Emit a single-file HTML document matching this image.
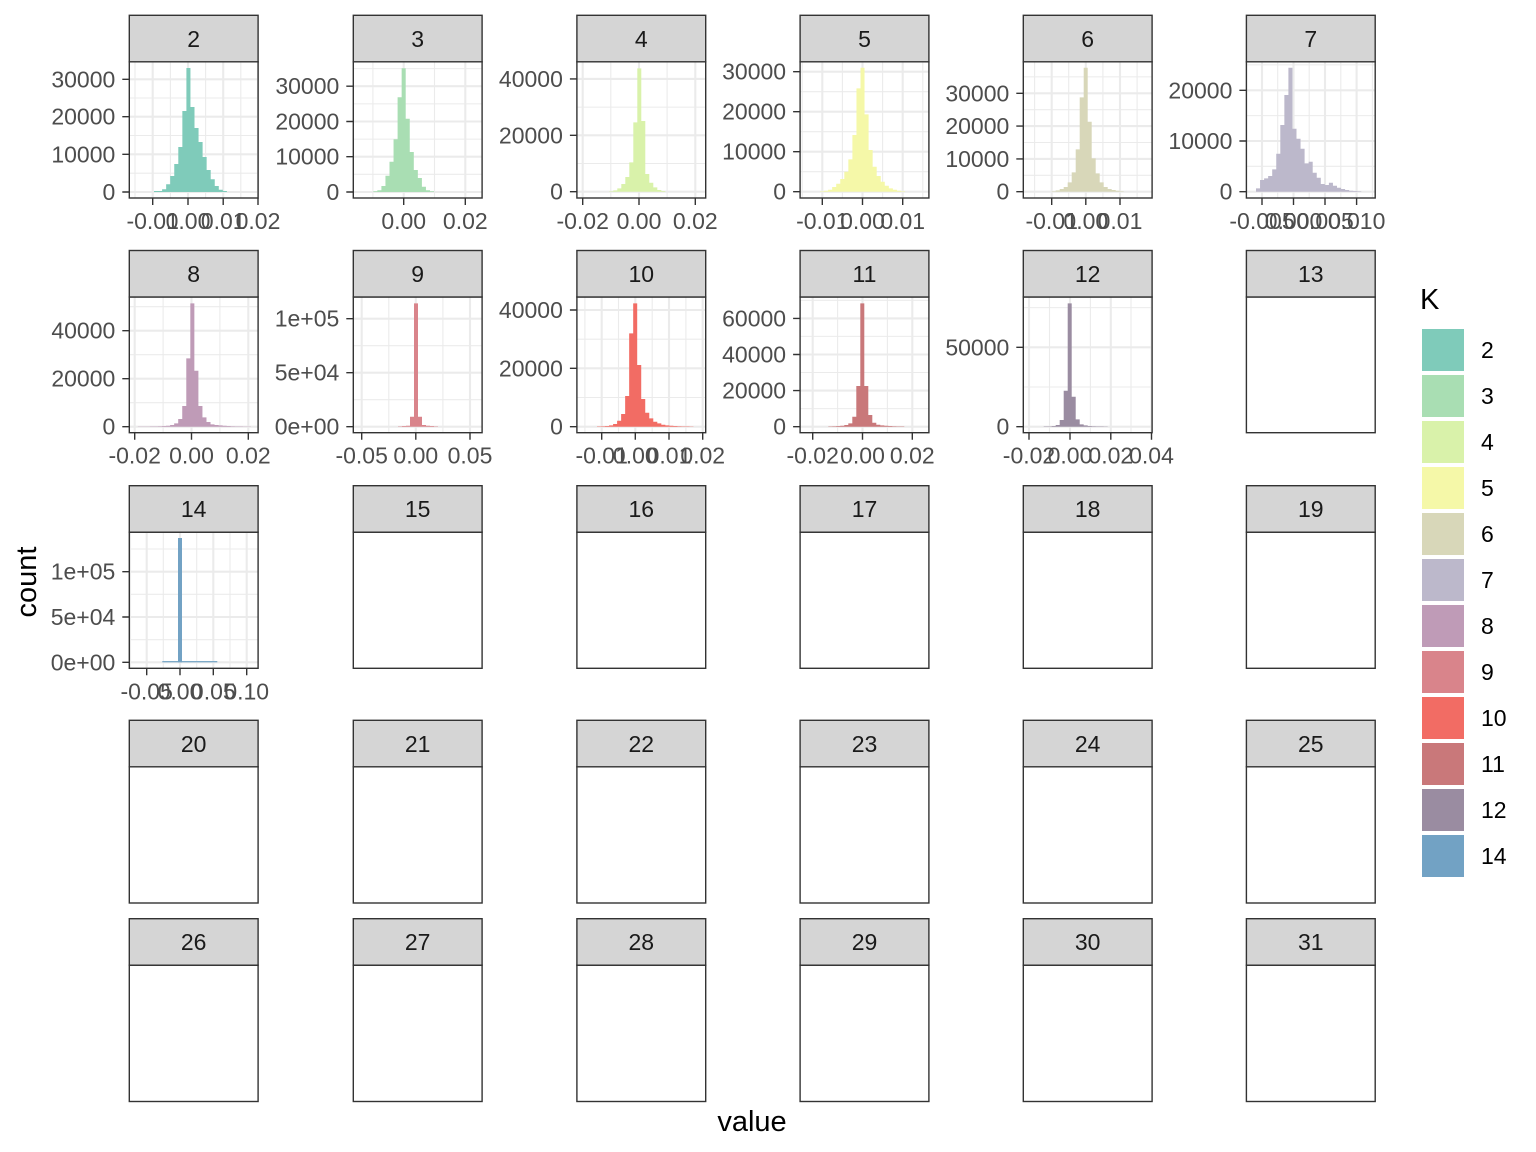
<!DOCTYPE html>
<html><head><meta charset="utf-8">
<style>
html,body{margin:0;padding:0;background:#fff;}
svg{display:block;font-family:"Liberation Sans",Arial,sans-serif;}
.mn{stroke:#EBEBEB;stroke-width:1.05;fill:none}
.mj{stroke:#EBEBEB;stroke-width:2.1;fill:none}
.bd{fill:none;stroke:#333;stroke-width:1.4}
.st{fill:#D5D5D5;stroke:#333;stroke-width:1.4}
.tk{stroke:#333;stroke-width:1.4;fill:none}
.yl{font-size:23px;fill:#4D4D4D;text-anchor:end}
.xl{font-size:23px;fill:#4D4D4D;text-anchor:middle}
.s{font-size:23px;fill:#1A1A1A;text-anchor:middle}
.lg{font-size:23px;fill:#000}
.ti{font-size:29px;fill:#000}
</style></head><body>
<svg width="1536" height="1152" viewBox="0 0 1536 1152" xmlns="http://www.w3.org/2000/svg">
<rect width="1536" height="1152" fill="#fff"/>

<!-- ===== P2 ===== -->
<path class="mn" d="M135 61.8V198M170.4 61.8V198M205.6 61.8V198M240.8 61.8V198M129.3 173.2H258.1M129.3 135.5H258.1M129.3 98H258.1"/>
<path class="mj" d="M152.7 61.8V198M188 61.8V198M223.2 61.8V198M258 61.8V198M129.3 192H258.1M129.3 154.3H258.1M129.3 116.7H258.1M129.3 79.3H258.1"/>
<path fill="#7FCBBA" d="M154 192v-1h4.05v1zm4.05 0v-1h4.05v1zm4.05 0v-2.7h4.05v2.7zm4.05 0v-7.7h4.05v7.7zm4.05 0v-16h4.05v16zm4.05 0v-28h4.05v28zm4.05 0v-45h4.05v45zm4.05 0v-81h4.05v81zm4.05 0v-124h4.05v124zm4.05 0v-85h4.05v85zm4.05 0v-64h4.05v64zm4.05 0v-50h4.05v50zm4.05 0v-35h4.05v35zm4.05 0v-22h4.05v22zm4.05 0v-12.7h4.05v12.7zm4.05 0v-6h4.05v6zm4.05 0v-2.3h4.05v2.3zm4.05 0v-1h4.05v1z"/>
<path class="tk" d="M122.3 192H129.3M122.3 154.3H129.3M122.3 116.7H129.3M122.3 79.3H129.3M152.7 198V205M188 198V205M223.2 198V205M258 198V205"/>
<text class="yl" x="115.3" y="200">0</text><text class="yl" x="115.3" y="162.3">10000</text><text class="yl" x="115.3" y="124.7">20000</text><text class="yl" x="115.3" y="87.3">30000</text>
<text class="xl" x="152.7" y="229">-0.01</text><text class="xl" x="188" y="229">0.00</text><text class="xl" x="223.2" y="229">0.01</text><text class="xl" x="258" y="229">0.02</text>

<!-- ===== P3 ===== -->
<path class="mn" d="M372.9 61.8V198M434.5 61.8V198M353.3 174.3H482.1M353.3 139.1H482.1M353.3 103.9H482.1M353.3 68.6H482.1"/>
<path class="mj" d="M403.7 61.8V198M465.3 61.8V198M353.3 192H482.1M353.3 156.7H482.1M353.3 121.5H482.1M353.3 86.2H482.1"/>
<path fill="#A9DEB3" d="M373.3 192v-0.7h4.05v0.7zm4.05 0v-1.7h4.05v1.7zm4.05 0v-6h4.05v6zm4.05 0v-16.3h4.05v16.3zm4.05 0v-30.3h4.05v30.3zm4.05 0v-52.7h4.05v52.7zm4.05 0v-94.7h4.05v94.7zm4.05 0v-123.7h4.05v123.7zm4.05 0v-73.3h4.05v73.3zm4.05 0v-40h4.05v40zm4.05 0v-22h4.05v22zm4.05 0v-14h4.05v14zm4.05 0v-5.3h4.05v5.3zm4.05 0v-1.7h4.05v1.7zm4.05 0v-0.7h4.05v0.7z"/>
<path class="tk" d="M346.3 192H353.3M346.3 156.7H353.3M346.3 121.5H353.3M346.3 86.2H353.3M403.7 198V205M465.3 198V205"/>
<text class="yl" x="339.3" y="200">0</text><text class="yl" x="339.3" y="164.7">10000</text><text class="yl" x="339.3" y="129.5">20000</text><text class="yl" x="339.3" y="94.2">30000</text>
<text class="xl" x="403.7" y="229">0.00</text><text class="xl" x="465.3" y="229">0.02</text>

<!-- ===== P4 ===== -->
<path class="mn" d="M610.8 61.8V198M667.1 61.8V198M576.9 163.5H705.7M576.9 107.1H705.7"/>
<path class="mj" d="M582.7 61.8V198M639 61.8V198M695.3 61.8V198M576.9 191.7H705.7M576.9 135.3H705.7M576.9 78.9H705.7"/>
<path fill="#D9F2AA" d="M609.3 191.7v-0.5h4v0.5zm4 0v-1.3h4v1.3zm4 0v-3.3h4v3.3zm4 0v-7.7h4v7.7zm4 0v-14.7h4v14.7zm4 0v-29.3h4v29.3zm4 0v-69.3h4v69.3zm4 0v-123.3h4v123.3zm4 0v-70.7h4v70.7zm4 0v-17.7h4v17.7zm4 0v-9h4v9zm4 0v-4.3h4v4.3zm4 0v-1.7h4v1.7zm4 0v-0.7h4v0.7z"/>
<path class="tk" d="M569.9 191.7H576.9M569.9 135.3H576.9M569.9 78.9H576.9M582.7 198V205M639 198V205M695.3 198V205"/>
<text class="yl" x="562.9" y="199.7">0</text><text class="yl" x="562.9" y="143.3">20000</text><text class="yl" x="562.9" y="86.9">40000</text>
<text class="xl" x="582.7" y="229">-0.02</text><text class="xl" x="639" y="229">0.00</text><text class="xl" x="695.3" y="229">0.02</text>

<!-- ===== P5 ===== -->
<path class="mn" d="M802.2 61.8V198M842.4 61.8V198M882.6 61.8V198M922.8 61.8V198M800.1 171.7H928.9M800.1 131.7H928.9M800.1 91.7H928.9"/>
<path class="mj" d="M822.3 61.8V198M862.5 61.8V198M902.7 61.8V198M800.1 191.7H928.9M800.1 151.7H928.9M800.1 111.7H928.9M800.1 71.7H928.9"/>
<path fill="#F5F8A8" d="M820 191.7v-0.5h4.05v0.5zm4.05 0v-1h4.05v1zm4.05 0v-2h4.05v2zm4.05 0v-4.7h4.05v4.7zm4.05 0v-8h4.05v8zm4.05 0v-12.7h4.05v12.7zm4.05 0v-20h4.05v20zm4.05 0v-32.3h4.05v32.3zm4.05 0v-56.7h4.05v56.7zm4.05 0v-103.3h4.05v103.3zm4.05 0v-124h4.05v124zm4.05 0v-77.3h4.05v77.3zm4.05 0v-41.7h4.05v41.7zm4.05 0v-25h4.05v25zm4.05 0v-15.7h4.05v15.7zm4.05 0v-10h4.05v10zm4.05 0v-6h4.05v6zm4.05 0v-3.3h4.05v3.3zm4.05 0v-2h4.05v2zm4.05 0v-1h4.05v1zm4.05 0v-0.5h4.05v0.5z"/>
<path class="tk" d="M793.1 191.7H800.1M793.1 151.7H800.1M793.1 111.7H800.1M793.1 71.7H800.1M822.3 198V205M862.5 198V205M902.7 198V205"/>
<text class="yl" x="786.1" y="199.7">0</text><text class="yl" x="786.1" y="159.7">10000</text><text class="yl" x="786.1" y="119.7">20000</text><text class="yl" x="786.1" y="79.7">30000</text>
<text class="xl" x="822.3" y="229">-0.01</text><text class="xl" x="862.5" y="229">0.00</text><text class="xl" x="902.7" y="229">0.01</text>

<!-- ===== P6 ===== -->
<path class="mn" d="M1034.6 61.8V198M1068.7 61.8V198M1102.9 61.8V198M1137.1 61.8V198M1023.3 175.3H1152.1M1023.3 142.5H1152.1M1023.3 109.7H1152.1M1023.3 76.9H1152.1"/>
<path class="mj" d="M1051.7 61.8V198M1085.8 61.8V198M1120 61.8V198M1023.3 191.7H1152.1M1023.3 158.9H1152.1M1023.3 126.1H1152.1M1023.3 93.3H1152.1"/>
<path fill="#D8D7B9" d="M1051.7 191.7v-0.5h4v0.5zm4 0v-1.3h4v1.3zm4 0v-2.7h4v2.7zm4 0v-4.7h4v4.7zm4 0v-9.3h4v9.3zm4 0v-19.3h4v19.3zm4 0v-42.3h4v42.3zm4 0v-94.3h4v94.3zm4 0v-124h4v124zm4 0v-70h4v70zm4 0v-33.3h4v33.3zm4 0v-18.3h4v18.3zm4 0v-9.3h4v9.3zm4 0v-4.7h4v4.7zm4 0v-2.7h4v2.7zm4 0v-1.7h4v1.7zm4 0v-1h4v1zm4 0v-0.5h4v0.5z"/>
<path class="tk" d="M1016.3 191.7H1023.3M1016.3 158.9H1023.3M1016.3 126.1H1023.3M1016.3 93.3H1023.3M1051.7 198V205M1085.8 198V205M1120 198V205"/>
<text class="yl" x="1009.3" y="199.7">0</text><text class="yl" x="1009.3" y="166.9">10000</text><text class="yl" x="1009.3" y="134.1">20000</text><text class="yl" x="1009.3" y="101.3">30000</text>
<text class="xl" x="1051.7" y="229">-0.01</text><text class="xl" x="1085.8" y="229">0.00</text><text class="xl" x="1120" y="229">0.01</text>

<!-- ===== P7 ===== -->
<path class="mn" d="M1277.7 61.8V198M1309.2 61.8V198M1340.8 61.8V198M1372.4 61.8V198M1246.4 166.3H1375.2M1246.4 115.6H1375.2M1246.4 64.9H1375.2"/>
<path class="mj" d="M1262 61.8V198M1293.5 61.8V198M1325 61.8V198M1356.6 61.8V198M1246.4 191.7H1375.2M1246.4 141H1375.2M1246.4 90.3H1375.2"/>
<path fill="#BCB8CB" d="M1256 191.7v-3.3h4.05v3.3zm4.05 0v-11.7h4.05v11.7zm4.05 0v-13.3h4.05v13.3zm4.05 0v-15.7h4.05v15.7zm4.05 0v-22.3h4.05v22.3zm4.05 0v-38h4.05v38zm4.05 0v-66.7h4.05v66.7zm4.05 0v-96.7h4.05v96.7zm4.05 0v-124h4.05v124zm4.05 0v-63h4.05v63zm4.05 0v-53h4.05v53zm4.05 0v-43h4.05v43zm4.05 0v-28.3h4.05v28.3zm4.05 0v-30h4.05v30zm4.05 0v-19h4.05v19zm4.05 0v-14h4.05v14zm4.05 0v-7.7h4.05v7.7zm4.05 0v-6.7h4.05v6.7zm4.05 0v-9h4.05v9zm4.05 0v-6h4.05v6zm4.05 0v-4h4.05v4zm4.05 0v-2.7h4.05v2.7zm4.05 0v-1.7h4.05v1.7zm4.05 0v-1h4.05v1zm4.05 0v-0.7h4.05v0.7zm4.05 0v-0.5h4.05v0.5z"/>
<path class="tk" d="M1239.4 191.7H1246.4M1239.4 141H1246.4M1239.4 90.3H1246.4M1262 198V205M1293.5 198V205M1325 198V205M1356.6 198V205"/>
<text class="yl" x="1232.4" y="199.7">0</text><text class="yl" x="1232.4" y="149">10000</text><text class="yl" x="1232.4" y="98.3">20000</text>
<text class="xl" x="1262" y="229">-0.005</text><text class="xl" x="1293.5" y="229">0.000</text><text class="xl" x="1325" y="229">0.005</text><text class="xl" x="1356.6" y="229">0.010</text>

<!-- ===== P8 ===== -->
<path class="mn" d="M163.1 297V432.7M219.9 297V432.7M129.3 402.7H258.1M129.3 354.7H258.1M129.3 306.7H258.1"/>
<path class="mj" d="M134.7 297V432.7M191.5 297V432.7M248.3 297V432.7M129.3 426.7H258.1M129.3 378.7H258.1M129.3 330.7H258.1"/>
<path fill="#BF9BB7" d="M137.8 426.7v-0.2h4.04v0.2zm4.04 0v-0.2h4.04v0.2zm4.04 0v-0.2h4.04v0.2zm4.04 0v-0.3h4.04v0.3zm4.04 0v-0.3h4.04v0.3zm4.04 0v-0.5h4.04v0.5zm4.04 0v-0.7h4.04v0.7zm4.04 0v-1h4.04v1zm4.04 0v-1.7h4.04v1.7zm4.04 0v-3.3h4.04v3.3zm4.04 0v-7.7h4.04v7.7zm4.04 0v-20.7h4.04v20.7zm4.04 0v-68.3h4.04v68.3zm4.04 0v-123.3h4.04v123.3zm4.04 0v-56h4.04v56zm4.04 0v-20.7h4.04v20.7zm4.04 0v-9.3h4.04v9.3zm4.04 0v-4.7h4.04v4.7zm4.04 0v-2.3h4.04v2.3zm4.04 0v-1.7h4.04v1.7zm4.04 0v-1.3h4.04v1.3zm4.04 0v-1h4.04v1zm4.04 0v-0.7h4.04v0.7zm4.04 0v-0.5h4.04v0.5zm4.04 0v-0.3h4.04v0.3zm4.04 0v-0.3h4.04v0.3zm4.04 0v-0.2h4.04v0.2zm4.04 0v-0.2h4.04v0.2z"/>
<path class="tk" d="M122.3 426.7H129.3M122.3 378.7H129.3M122.3 330.7H129.3M134.7 432.7V439.7M191.5 432.7V439.7M248.3 432.7V439.7"/>
<text class="yl" x="115.3" y="434.7">0</text><text class="yl" x="115.3" y="386.7">20000</text><text class="yl" x="115.3" y="338.7">40000</text>
<text class="xl" x="134.7" y="463.7">-0.02</text><text class="xl" x="191.5" y="463.7">0.00</text><text class="xl" x="248.3" y="463.7">0.02</text>

<!-- ===== P9 ===== -->
<path class="mn" d="M388.8 297V432.7M442.9 297V432.7M353.3 399.7H482.1M353.3 345.7H482.1"/>
<path class="mj" d="M361.7 297V432.7M415.8 297V432.7M470 297V432.7M353.3 426.7H482.1M353.3 372.7H482.1M353.3 318.7H482.1"/>
<path fill="#D9848B" d="M398 426.7v-0.3h4v0.3zm4 0v-0.7h4v0.7zm4 0v-1h4v1zm4 0v-10h4v10zm4 0v-123.3h4v123.3zm4 0v-10h4v10zm4 0v-1.7h4v1.7zm4 0v-1h4v1zm4 0v-0.7h4v0.7zm4 0v-0.3h4v0.3z"/>
<path class="tk" d="M346.3 426.7H353.3M346.3 372.7H353.3M346.3 318.7H353.3M361.7 432.7V439.7M415.8 432.7V439.7M470 432.7V439.7"/>
<text class="yl" x="339.3" y="434.7">0e+00</text><text class="yl" x="339.3" y="380.7">5e+04</text><text class="yl" x="339.3" y="326.7">1e+05</text>
<text class="xl" x="361.7" y="463.7">-0.05</text><text class="xl" x="415.8" y="463.7">0.00</text><text class="xl" x="470" y="463.7">0.05</text>

<!-- ===== P10 ===== -->
<path class="mn" d="M584.9 297V432.7M618.5 297V432.7M652.2 297V432.7M685.9 297V432.7M576.9 397.5H705.7M576.9 339.2H705.7"/>
<path class="mj" d="M601.7 297V432.7M635.3 297V432.7M669 297V432.7M702.7 297V432.7M576.9 426.7H705.7M576.9 368.3H705.7M576.9 310H705.7"/>
<path fill="#F26C64" d="M597 426.7v-0.3h4.02v0.3zm4.02 0v-0.5h4.02v0.5zm4.02 0v-0.7h4.02v0.7zm4.02 0v-1.3h4.02v1.3zm4.02 0v-2.7h4.02v2.7zm4.02 0v-6h4.02v6zm4.02 0v-12.7h4.02v12.7zm4.02 0v-30.7h4.02v30.7zm4.02 0v-93.3h4.02v93.3zm4.02 0v-123.3h4.02v123.3zm4.02 0v-61.7h4.02v61.7zm4.02 0v-27.7h4.02v27.7zm4.02 0v-14h4.02v14zm4.02 0v-8.3h4.02v8.3zm4.02 0v-5h4.02v5zm4.02 0v-3.3h4.02v3.3zm4.02 0v-2h4.02v2zm4.02 0v-1.3h4.02v1.3zm4.02 0v-1h4.02v1zm4.02 0v-0.7h4.02v0.7zm4.02 0v-0.5h4.02v0.5zm4.02 0v-0.3h4.02v0.3zm4.02 0v-0.3h4.02v0.3zm4.02 0v-0.2h4.02v0.2z"/>
<path class="tk" d="M569.9 426.7H576.9M569.9 368.3H576.9M569.9 310H576.9M601.7 432.7V439.7M635.3 432.7V439.7M669 432.7V439.7M702.7 432.7V439.7"/>
<text class="yl" x="562.9" y="434.7">0</text><text class="yl" x="562.9" y="376.3">20000</text><text class="yl" x="562.9" y="318">40000</text>
<text class="xl" x="601.7" y="463.7">-0.01</text><text class="xl" x="635.3" y="463.7">0.00</text><text class="xl" x="669" y="463.7">0.01</text><text class="xl" x="702.7" y="463.7">0.02</text>

<!-- ===== P11 ===== -->
<path class="mn" d="M837.6 297V432.7M887.4 297V432.7M800.1 408.6H928.9M800.1 372.5H928.9M800.1 336.4H928.9M800.1 300.3H928.9"/>
<path class="mj" d="M812.7 297V432.7M862.5 297V432.7M912.3 297V432.7M800.1 426.7H928.9M800.1 390.6H928.9M800.1 354.5H928.9M800.1 318.4H928.9"/>
<path fill="#C9787A" d="M828.3 426.7v-0.3h4v0.3zm4 0v-0.5h4v0.5zm4 0v-0.7h4v0.7zm4 0v-1h4v1zm4 0v-1.7h4v1.7zm4 0v-3.3h4v3.3zm4 0v-10h4v10zm4 0v-40.7h4v40.7zm4 0v-123.3h4v123.3zm4 0v-40.7h4v40.7zm4 0v-11.7h4v11.7zm4 0v-4h4v4zm4 0v-2h4v2zm4 0v-1.3h4v1.3zm4 0v-1h4v1zm4 0v-0.7h4v0.7zm4 0v-0.5h4v0.5zm4 0v-0.3h4v0.3zm4 0v-0.3h4v0.3z"/>
<path class="tk" d="M793.1 426.7H800.1M793.1 390.6H800.1M793.1 354.5H800.1M793.1 318.4H800.1M812.7 432.7V439.7M862.5 432.7V439.7M912.3 432.7V439.7"/>
<text class="yl" x="786.1" y="434.7">0</text><text class="yl" x="786.1" y="398.6">20000</text><text class="yl" x="786.1" y="362.5">40000</text><text class="yl" x="786.1" y="326.4">60000</text>
<text class="xl" x="812.7" y="463.7">-0.02</text><text class="xl" x="862.5" y="463.7">0.00</text><text class="xl" x="912.3" y="463.7">0.02</text>

<!-- ===== P12 ===== -->
<path class="mn" d="M1049.5 297V432.7M1090.4 297V432.7M1131 297V432.7M1023.3 387H1152.1M1023.3 307.6H1152.1"/>
<path class="mj" d="M1029 297V432.7M1070 297V432.7M1110.8 297V432.7M1151.5 297V432.7M1023.3 426.7H1152.1M1023.3 347.3H1152.1"/>
<path fill="#9A8CA1" d="M1043.7 426.7v-0.3h4v0.3zm4 0v-0.3h4v0.3zm4 0v-0.7h4v0.7zm4 0v-1.7h4v1.7zm4 0v-6.7h4v6.7zm4 0v-36h4v36zm4 0v-123.3h4v123.3zm4 0v-30h4v30zm4 0v-7.3h4v7.3zm4 0v-2.3h4v2.3zm4 0v-1.3h4v1.3zm4 0v-0.7h4v0.7zm4 0v-0.5h4v0.5zm4 0v-0.3h4v0.3zm4 0v-0.3h4v0.3zm4 0v-0.2h4v0.2z"/>
<path class="tk" d="M1016.3 426.7H1023.3M1016.3 347.3H1023.3M1029 432.7V439.7M1070 432.7V439.7M1110.8 432.7V439.7M1151.5 432.7V439.7"/>
<text class="yl" x="1009.3" y="434.7">0</text><text class="yl" x="1009.3" y="355.3">50000</text>
<text class="xl" x="1029" y="463.7">-0.02</text><text class="xl" x="1070" y="463.7">0.00</text><text class="xl" x="1110.8" y="463.7">0.02</text><text class="xl" x="1151.5" y="463.7">0.04</text>

<!-- ===== P14 ===== -->
<path class="mn" d="M130.5 532.2V668.3M163.3 532.2V668.3M196.7 532.2V668.3M230 532.2V668.3M129.3 639.7H258.1M129.3 594.3H258.1M129.3 549H258.1"/>
<path class="mj" d="M146.7 532.2V668.3M180 532.2V668.3M213.3 532.2V668.3M246.7 532.2V668.3M129.3 662.3H258.1M129.3 617H258.1M129.3 571.7H258.1"/>
<rect x="162.3" y="661.1" width="55" height="1.2" fill="#72A2C4"/>
<rect x="178" y="538" width="4" height="124.3" fill="#72A2C4"/>
<path class="tk" d="M122.3 662.3H129.3M122.3 617H129.3M122.3 571.7H129.3M146.7 668.3V675.3M180 668.3V675.3M213.3 668.3V675.3M246.7 668.3V675.3"/>
<text class="yl" x="115.3" y="670.3">0e+00</text><text class="yl" x="115.3" y="625">5e+04</text><text class="yl" x="115.3" y="579.7">1e+05</text>
<text class="xl" x="146.7" y="699.3">-0.05</text><text class="xl" x="180" y="699.3">0.00</text><text class="xl" x="213.3" y="699.3">0.05</text><text class="xl" x="246.7" y="699.3">0.10</text>

<!-- ===== Panel borders ===== -->
<g class="bd">
<rect x="129.3" y="61.8" width="128.8" height="136.2"/><rect x="353.3" y="61.8" width="128.8" height="136.2"/><rect x="576.9" y="61.8" width="128.8" height="136.2"/><rect x="800.1" y="61.8" width="128.8" height="136.2"/><rect x="1023.3" y="61.8" width="128.8" height="136.2"/><rect x="1246.4" y="61.8" width="128.8" height="136.2"/>
<rect x="129.3" y="297" width="128.8" height="135.7"/><rect x="353.3" y="297" width="128.8" height="135.7"/><rect x="576.9" y="297" width="128.8" height="135.7"/><rect x="800.1" y="297" width="128.8" height="135.7"/><rect x="1023.3" y="297" width="128.8" height="135.7"/><rect x="1246.4" y="297" width="128.8" height="135.7"/>
<rect x="129.3" y="532.2" width="128.8" height="136.1"/><rect x="353.3" y="532.2" width="128.8" height="136.1"/><rect x="576.9" y="532.2" width="128.8" height="136.1"/><rect x="800.1" y="532.2" width="128.8" height="136.1"/><rect x="1023.3" y="532.2" width="128.8" height="136.1"/><rect x="1246.4" y="532.2" width="128.8" height="136.1"/>
<rect x="129.3" y="766.8" width="128.8" height="136.2"/><rect x="353.3" y="766.8" width="128.8" height="136.2"/><rect x="576.9" y="766.8" width="128.8" height="136.2"/><rect x="800.1" y="766.8" width="128.8" height="136.2"/><rect x="1023.3" y="766.8" width="128.8" height="136.2"/><rect x="1246.4" y="766.8" width="128.8" height="136.2"/>
<rect x="129.3" y="965.2" width="128.8" height="136.3"/><rect x="353.3" y="965.2" width="128.8" height="136.3"/><rect x="576.9" y="965.2" width="128.8" height="136.3"/><rect x="800.1" y="965.2" width="128.8" height="136.3"/><rect x="1023.3" y="965.2" width="128.8" height="136.3"/><rect x="1246.4" y="965.2" width="128.8" height="136.3"/>
</g>

<!-- ===== Strips ===== -->
<g class="st">
<rect x="129.3" y="15.3" width="128.8" height="46.5"/><rect x="353.3" y="15.3" width="128.8" height="46.5"/><rect x="576.9" y="15.3" width="128.8" height="46.5"/><rect x="800.1" y="15.3" width="128.8" height="46.5"/><rect x="1023.3" y="15.3" width="128.8" height="46.5"/><rect x="1246.4" y="15.3" width="128.8" height="46.5"/>
<rect x="129.3" y="250.5" width="128.8" height="46.5"/><rect x="353.3" y="250.5" width="128.8" height="46.5"/><rect x="576.9" y="250.5" width="128.8" height="46.5"/><rect x="800.1" y="250.5" width="128.8" height="46.5"/><rect x="1023.3" y="250.5" width="128.8" height="46.5"/><rect x="1246.4" y="250.5" width="128.8" height="46.5"/>
<rect x="129.3" y="485.7" width="128.8" height="46.5"/><rect x="353.3" y="485.7" width="128.8" height="46.5"/><rect x="576.9" y="485.7" width="128.8" height="46.5"/><rect x="800.1" y="485.7" width="128.8" height="46.5"/><rect x="1023.3" y="485.7" width="128.8" height="46.5"/><rect x="1246.4" y="485.7" width="128.8" height="46.5"/>
<rect x="129.3" y="720.3" width="128.8" height="46.5"/><rect x="353.3" y="720.3" width="128.8" height="46.5"/><rect x="576.9" y="720.3" width="128.8" height="46.5"/><rect x="800.1" y="720.3" width="128.8" height="46.5"/><rect x="1023.3" y="720.3" width="128.8" height="46.5"/><rect x="1246.4" y="720.3" width="128.8" height="46.5"/>
<rect x="129.3" y="918.7" width="128.8" height="46.5"/><rect x="353.3" y="918.7" width="128.8" height="46.5"/><rect x="576.9" y="918.7" width="128.8" height="46.5"/><rect x="800.1" y="918.7" width="128.8" height="46.5"/><rect x="1023.3" y="918.7" width="128.8" height="46.5"/><rect x="1246.4" y="918.7" width="128.8" height="46.5"/>
</g>
<g>
<text class="s" x="193.7" y="46.8">2</text><text class="s" x="417.7" y="46.8">3</text><text class="s" x="641.3" y="46.8">4</text><text class="s" x="864.5" y="46.8">5</text><text class="s" x="1087.7" y="46.8">6</text><text class="s" x="1310.8" y="46.8">7</text>
<text class="s" x="193.7" y="282">8</text><text class="s" x="417.7" y="282">9</text><text class="s" x="641.3" y="282">10</text><text class="s" x="864.5" y="282">11</text><text class="s" x="1087.7" y="282">12</text><text class="s" x="1310.8" y="282">13</text>
<text class="s" x="193.7" y="517.2">14</text><text class="s" x="417.7" y="517.2">15</text><text class="s" x="641.3" y="517.2">16</text><text class="s" x="864.5" y="517.2">17</text><text class="s" x="1087.7" y="517.2">18</text><text class="s" x="1310.8" y="517.2">19</text>
<text class="s" x="193.7" y="751.8">20</text><text class="s" x="417.7" y="751.8">21</text><text class="s" x="641.3" y="751.8">22</text><text class="s" x="864.5" y="751.8">23</text><text class="s" x="1087.7" y="751.8">24</text><text class="s" x="1310.8" y="751.8">25</text>
<text class="s" x="193.7" y="950.2">26</text><text class="s" x="417.7" y="950.2">27</text><text class="s" x="641.3" y="950.2">28</text><text class="s" x="864.5" y="950.2">29</text><text class="s" x="1087.7" y="950.2">30</text><text class="s" x="1310.8" y="950.2">31</text>
</g>

<!-- ===== Axis titles ===== -->
<text class="ti" x="752" y="1131" text-anchor="middle">value</text>
<text class="ti" transform="translate(36,582) rotate(-90)" text-anchor="middle">count</text>

<!-- ===== Legend ===== -->
<text class="ti" x="1420" y="309">K</text>
<rect x="1422" y="329" width="42" height="42" fill="#7FCBBA"/>
<rect x="1422" y="375" width="42" height="42" fill="#A9DEB3"/>
<rect x="1422" y="421" width="42" height="42" fill="#D9F2AA"/>
<rect x="1422" y="467" width="42" height="42" fill="#F5F8A8"/>
<rect x="1422" y="513" width="42" height="42" fill="#D8D7B9"/>
<rect x="1422" y="559" width="42" height="42" fill="#BCB8CB"/>
<rect x="1422" y="605" width="42" height="42" fill="#BF9BB7"/>
<rect x="1422" y="651" width="42" height="42" fill="#D9848B"/>
<rect x="1422" y="697" width="42" height="42" fill="#F26C64"/>
<rect x="1422" y="743" width="42" height="42" fill="#C9787A"/>
<rect x="1422" y="789" width="42" height="42" fill="#9A8CA1"/>
<rect x="1422" y="835" width="42" height="42" fill="#72A2C4"/>
<text class="lg" x="1481" y="358">2</text>
<text class="lg" x="1481" y="404">3</text>
<text class="lg" x="1481" y="450">4</text>
<text class="lg" x="1481" y="496">5</text>
<text class="lg" x="1481" y="542">6</text>
<text class="lg" x="1481" y="588">7</text>
<text class="lg" x="1481" y="634">8</text>
<text class="lg" x="1481" y="680">9</text>
<text class="lg" x="1481" y="726">10</text>
<text class="lg" x="1481" y="772">11</text>
<text class="lg" x="1481" y="818">12</text>
<text class="lg" x="1481" y="864">14</text>
</svg>
</body></html>
